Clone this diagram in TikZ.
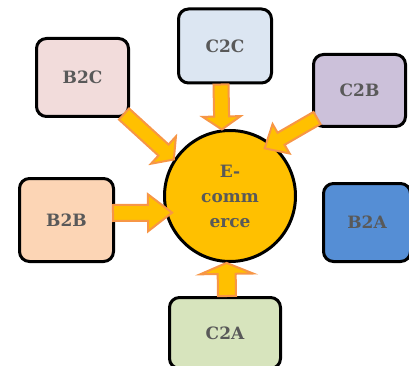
\documentclass[tikz,border=0pt]{standalone}
\usepackage{fontspec}
\setmainfont{DejaVu Serif}
\usetikzlibrary{calc}
\definecolor{txtgrey}{HTML}{595959}
\definecolor{arrowfill}{HTML}{FFC000}
\definecolor{arrowedge}{HTML}{F79646}
\definecolor{hubfill}{HTML}{FFC000}
\definecolor{bcfill}{HTML}{F2DCDB}
\definecolor{ccfill}{HTML}{DCE6F2}
\definecolor{cbfill}{HTML}{CCC1DA}
\definecolor{bbfill}{HTML}{FCD5B5}
\definecolor{bafill}{HTML}{558ED5}
\definecolor{cafill}{HTML}{D7E4BD}

% Block arrow from #1 to tip #2: shaft half width #3, head half width #4, head length #5
\newcommand\blockarrow[5]{%
  \coordinate (ba-base) at ($(#2)!#5!(#1)$);
  \filldraw[flow] ($(#1)!#3!90:(#2)$) -- ($(ba-base)!#3!-90:(#1)$)
    -- ($(ba-base)!#4!-90:(#1)$) -- (#2) -- ($(ba-base)!#4!90:(#1)$)
    -- ($(ba-base)!#3!90:(#1)$) -- ($(#1)!#3!-90:(#2)$) -- cycle;}

\begin{document}
\begin{tikzpicture}[x=1pt,y=-1pt,
  box/.style={draw=black, line width=3pt, rounded corners=10pt,
    font=\bfseries\fontsize{17}{20}\selectfont, text=txtgrey, inner sep=0pt},
  hub/.style={circle, draw=black, line width=3pt, fill=hubfill, inner sep=0pt,
    minimum size=131pt, align=center, text=txtgrey,
    font=\bfseries\fontsize{17}{25}\selectfont},
  flow/.style={fill=arrowfill, draw=arrowedge, line width=2pt, line join=miter}]
\useasboundingbox (0,0) rectangle (409,366);

% central hub
\node[hub] (ec) at (230,196) {E-\\comm\\erce};

% surrounding models
\node[box, fill=bcfill, minimum width=92pt, minimum height=78pt] (b2c) at (82.5,77.5) {B2C};
\node[box, fill=ccfill, minimum width=93pt, minimum height=74pt] (c2c) at (225,46) {C2C};
\node[box, fill=cbfill, minimum width=92pt, minimum height=72pt] (c2b) at (359.5,90.5) {C2B};
\node[box, fill=bbfill, minimum width=94pt, minimum height=83pt] (b2b) at (66.5,220) {B2B};
\node[box, fill=bafill, minimum width=87pt, minimum height=78pt] (b2a) at (367,222.5) {B2A};
\node[box, fill=cafill, minimum width=111pt, minimum height=71pt] (c2a) at (225,333) {C2A};

% arrow end points
\coordinate (c2c-out) at ($(c2c.south)+(-4,0)$);
\coordinate (b2c-out) at ($(b2c.south east)+(-6,-4)$);
\coordinate (c2b-out) at ($(c2b.south west)+(5,-10)$);
\coordinate (b2b-out) at ($(b2b.east)+(-2,-7)$);
\coordinate (c2a-out) at ($(c2a.north)+(2,0)$);
\coordinate (ec-top) at (ec.97);
\coordinate (ec-nw) at (ec.147);
\coordinate (ec-ne) at ($(ec.center)!0.88!(ec.54)$);
\coordinate (ec-w) at ($(ec.center)!0.9!(ec.196)$);
\coordinate (ec-bot) at (ec.267);

% block arrows into the hub
\blockarrow{c2c-out}{ec-top}{7.5pt}{19pt}{13pt}
\blockarrow{b2c-out}{ec-nw}{7.5pt}{18.5pt}{14pt}
\blockarrow{c2b-out}{ec-ne}{7pt}{17pt}{19pt}
\blockarrow{b2b-out}{ec-w}{8pt}{18.5pt}{24pt}
\blockarrow{c2a-out}{ec-bot}{9pt}{26.5pt}{11pt}
\end{tikzpicture}
\end{document}
